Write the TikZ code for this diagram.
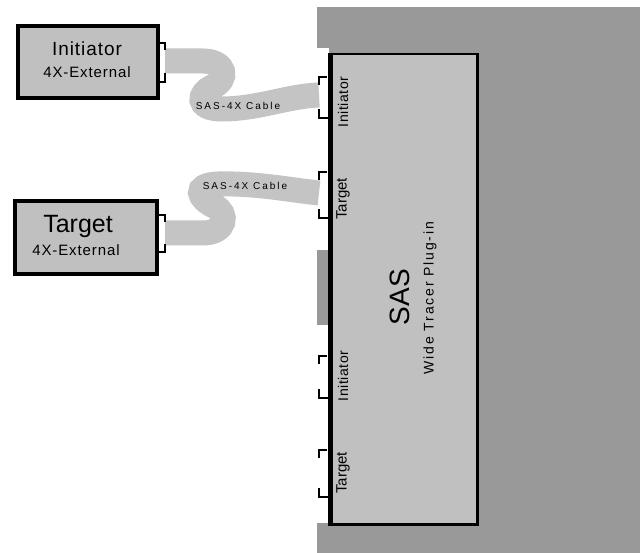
\documentclass[tikz,border=0pt]{standalone}
\usepackage{fontspec}
\setmainfont{Liberation Sans}
\definecolor{bgdark}{HTML}{999999}
\definecolor{boxgray}{HTML}{C0C0C0}
\definecolor{cablegray}{HTML}{C4C4C4}
\newcommand{\fsz}[1]{\fontsize{#1}{#1}\selectfont}
\begin{document}
\begin{tikzpicture}[x=1pt,y=-1pt,
  devbox/.style={draw=black, line width=4pt, fill=boxgray, inner sep=0pt, anchor=north west},
  portline/.style={draw=black, line width=1.1pt},
  cable/.style={draw=cablegray, line width=25pt},
  lbl/.style={inner sep=0pt, text=black}]
\useasboundingbox (0,0) rectangle (640,553);
\fill[white] (0,0) rectangle (640,553);
\fill[bgdark] (317,7) rectangle (640,553);
\fill[white] (316,48) rectangle (329,250);
\fill[white] (316,325) rectangle (329,523);
% port coordinates
\coordinate (i1out) at (165,61);
\coordinate (t1out) at (165,233);
\coordinate (s1in) at (319,95);
\coordinate (s2in) at (319,193);
% cables
\draw[cable] (i1out) -- (203,61) .. controls (226,61) and (229,80) .. (212,87)
  .. controls (199,93) and (195,109) .. (222,109) .. controls (258,109) and (288,96) .. (s1in);
\draw[cable] (t1out) -- (203,233) .. controls (226,233) and (229,213) .. (214,206)
  .. controls (199,199) and (192,185) .. (218,184) .. controls (256,183) and (290,190) .. (s2in);
\node[lbl] (c1lbl) at (238,106) {\fsz{10}\addfontfeature{LetterSpace=20}SAS-4X Cable};
\node[lbl] (c2lbl) at (245,186) {\fsz{10}\addfontfeature{LetterSpace=20}SAS-4X Cable};
% devices
\node[devbox, minimum width=140pt, minimum height=72pt] (init) at (16,24) {};
\node[devbox, minimum width=142pt, minimum height=73pt] (targ) at (13,199) {};
\node[devbox, line width=2.5pt, minimum width=147pt, minimum height=470pt] (sas) at (329,53) {};
\draw[line width=5pt] ([xshift=1pt]sas.north west) -- ([xshift=1pt]sas.south west);
% brackets on external devices
\draw[portline] (157,43) -- (165,43) -- (165,50);
\draw[portline] (165,73) -- (165,82) -- (157,82);
\draw[portline] (157,215) -- (165,215) -- (165,222);
\draw[portline] (165,244) -- (165,252) -- (157,252);
% brackets on SAS
\foreach \t/\b in {77/118, 172/218, 356/398, 450/497}{
  \draw[portline] (327,\t) -- (319,\t) -- (319,\t+8);
  \draw[portline] (319,\b-9) -- (319,\b) -- (329,\b);
}
% texts
\node[lbl] (initA) at (87,49) {\fsz{19}\addfontfeature{LetterSpace=5}Initiator};
\node[lbl] (initB) at (87,72) {\fsz{15}\addfontfeature{LetterSpace=6}4X-External};
\node[lbl] (targA) at (78,226) {\fsz{25}Target};
\node[lbl] (targB) at (76,250) {\fsz{15}\addfontfeature{LetterSpace=6}4X-External};
\node[lbl, rotate=90] (p1) at (343,102) {\fsz{14}\addfontfeature{LetterSpace=4}Initiator};
\node[lbl, rotate=90] (p2) at (343,199) {\fsz{15}Target};
\node[lbl, rotate=90] (p3) at (343,376) {\fsz{14}\addfontfeature{LetterSpace=4}Initiator};
\node[lbl, rotate=90] (p4) at (343,473) {\fsz{15}Target};
\node[lbl, rotate=90] (sasA) at (400,297) {\fsz{28}SAS};
\node[lbl, rotate=90] (sasB) at (430,298) {\fsz{14}\addfontfeature{LetterSpace=13}Wide Tracer Plug-in};
\end{tikzpicture}
\end{document}
